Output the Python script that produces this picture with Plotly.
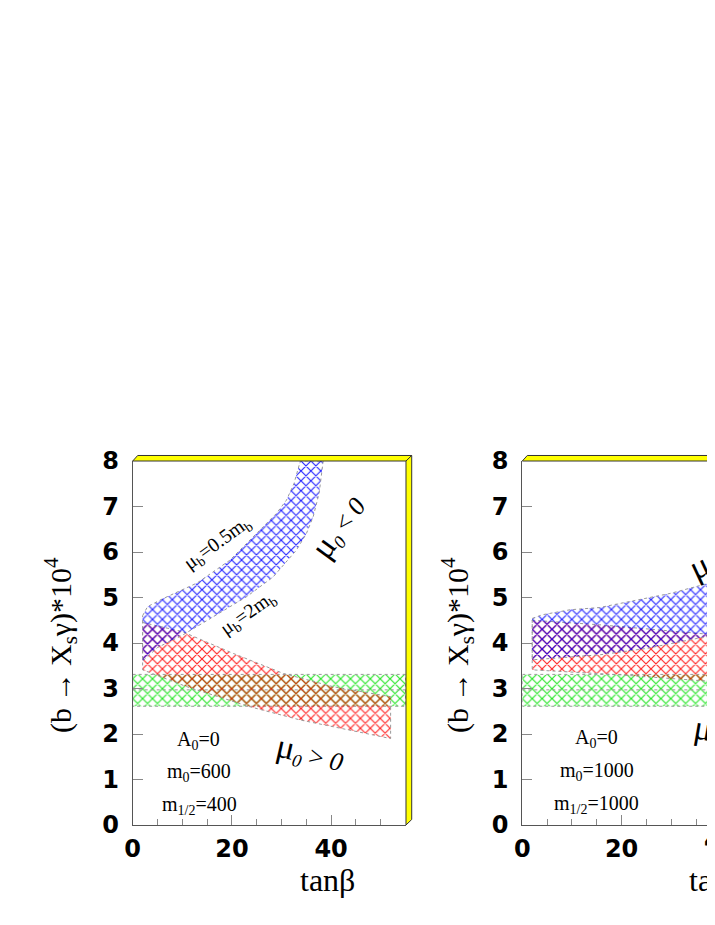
import plotly.graph_objects as go

W, H = 715, 925
OFF = 8  # the page body adds an 8 px margin; positions below are page pixels

# ---------------- data ----------------
# Panel 1 : A0=0, m0=600, m1/2=400
blue1_up_x = [2, 3, 6, 13, 19.6, 26.3, 29, 31, 32.5, 33.8]
blue1_up_y = [4.6, 4.8, 4.97, 5.32, 5.82, 6.55, 6.85, 7.14, 7.5, 8.0]
blue1_lo_x = [2, 5, 10, 16.3, 23, 28.3, 33, 35, 36.4, 37.6, 38.4]
blue1_lo_y = [3.6, 3.9, 4.17, 4.58, 5.02, 5.45, 6.04, 6.4, 6.78, 7.3, 8.0]

red1_up_x = [2, 10, 20.3, 30.4, 40.4, 52]
red1_up_y = [4.45, 4.25, 3.77, 3.33, 3.04, 2.82]
red1_lo_x = [2, 10.9, 23.6, 33.7, 43.8, 52]
red1_lo_y = [3.41, 3.04, 2.6, 2.31, 2.09, 1.9]

# experimental band (same in both panels)
green_x = [0, 55]
green_up = [3.31, 3.31]
green_mid = [2.97, 2.97]
green_lo = [2.61, 2.61]

# Panel 2 : A0=0, m0=1000, m1/2=1000
blue2_up_x = [2, 4, 9.6, 15.6, 19.7, 29.8, 38.8]
blue2_up_y = [4.54, 4.62, 4.73, 4.78, 4.87, 5.09, 5.35]
blue2_lo_x = [2, 15.6, 25, 35.2, 38.8]
blue2_lo_y = [3.63, 3.74, 3.88, 4.1, 4.17]

red2_up_x = [2, 15.6, 38.8]
red2_up_y = [4.5, 4.4, 4.18]
red2_lo_x = [2, 19.7, 29.8, 38.8]
red2_lo_y = [3.41, 3.3, 3.22, 3.15]

x_ticks = [0, 20, 40]
y_ticks = [0, 1, 2, 3, 4, 5, 6, 7, 8]

# ---------------- helpers ----------------
def px(x):
    return (x - OFF) / W

def py(y):
    return 1 - (y - OFF) / H

X1_DOM = [px(132.7), px(406)]
X2_DOM = [px(522.3), 1.0]
Y_DOM = [py(825), py(461)]
X1_RANGE = [0, 55.1]
X2_RANGE = [0, (W + OFF - 522.3) / 4.965]

fig = go.Figure()


def band(xu, yu, xl, yl, color, xa, ya):
    xs = list(xu) + list(reversed(xl)) + [xu[0]]
    ys = list(yu) + list(reversed(yl)) + [yu[0]]
    fig.add_trace(go.Scatter(
        x=xs, y=ys, mode="lines", fill="toself",
        fillcolor="rgba(0,0,0,0)",
        fillpattern=dict(shape="x", size=7, solidity=0.3,
                         fgcolor=color, fgopacity=0.85,
                         bgcolor="rgba(0,0,0,0)"),
        line=dict(color="#999999", width=1, dash="dot"),
        xaxis=xa, yaxis=ya, showlegend=False, hoverinfo="skip"))


for xa, ya in (("x", "y"), ("x2", "y2")):
    band(green_x, green_up, green_x, green_lo, "#00e000", xa, ya)
    fig.add_trace(go.Scatter(x=green_x, y=green_mid, mode="lines",
                             line=dict(color="#999999", width=1, dash="dot"),
                             xaxis=xa, yaxis=ya, showlegend=False, hoverinfo="skip"))

band(red1_up_x, red1_up_y, red1_lo_x, red1_lo_y, "#ff0000", "x", "y")
band(blue1_up_x, blue1_up_y, blue1_lo_x, blue1_lo_y, "#0000ff", "x", "y")
band(red2_up_x, red2_up_y, red2_lo_x, red2_lo_y, "#ff0000", "x2", "y2")
band(blue2_up_x, blue2_up_y, blue2_lo_x, blue2_lo_y, "#0000ff", "x2", "y2")

tickfont = dict(family="DejaVu Sans", size=24, color="black", weight="bold")
common_x = dict(showgrid=False, zeroline=False, showline=True, linecolor="#555555",
                linewidth=1, ticks="inside", ticklen=10, tickcolor="#888888",
                tickvals=x_ticks, tickfont=tickfont, ticklabelstandoff=2,
                automargin=False,
                minor=dict(dtick=5, tick0=0, ticks="inside", ticklen=6, tickcolor="#888888"))
common_y = dict(showgrid=False, zeroline=False, showline=True, linecolor="#555555",
                linewidth=1, ticks="inside", ticklen=10, tickcolor="#888888",
                tickvals=y_ticks, range=[0, 8], domain=Y_DOM, tickfont=tickfont,
                ticklabelstandoff=8, automargin=False)

fig.update_layout(
    width=W, height=H, margin=dict(l=0, r=0, t=0, b=0),
    paper_bgcolor="white", plot_bgcolor="white",
    xaxis=dict(domain=X1_DOM, range=X1_RANGE, anchor="y", **common_x),
    yaxis=dict(anchor="x", **common_y),
    xaxis2=dict(domain=X2_DOM, range=X2_RANGE, anchor="y2", **common_x),
    yaxis2=dict(anchor="x2", **common_y),
)

# 3D-looking yellow frame
def poly(pts):
    return "M " + " L ".join(f"{px(a):.5f},{py(b):.5f}" for a, b in pts) + " Z"

frames = [
    [(132.7, 461), (137.7, 455.5), (411.7, 455.5), (406, 461)],
    [(406, 461), (411.7, 455.5), (411.7, 819.5), (406, 825)],
    [(522.3, 461), (527.3, 455.5), (740, 455.5), (740, 461)],
]
for pts in frames:
    fig.add_shape(type="path", path=poly(pts), xref="paper", yref="paper",
                  fillcolor="#ffff00", line=dict(color="#333333", width=1), layer="above")

serif = "Liberation Serif"

def note(text, x, y, size, angle=0, family=serif):
    fig.add_annotation(text=text, x=px(x), y=py(y), xref="paper", yref="paper",
                       xanchor="center", yanchor="middle", showarrow=False,
                       textangle=angle, font=dict(family=family, size=size, color="black"))

ytitle = "(b\u2009→\u2009X<sub>s</sub>γ)*10<sup>4</sup>"
note(ytitle, 60, 645, 30, -90)
note(ytitle, 457, 645, 30, -90)
note("tanβ", 327, 880, 32)
note("tanβ", 716.6, 880, 32)
note("<b>40</b>", 720.9, 841, 24, family="DejaVu Sans")

MU = "<span style='font-size:34px'>μ</span>"
mu_lt = MU + "<sub><i>0</i></sub> &lt; <i>0</i>"
mu_gt = MU + "<sub><i>0</i></sub> &gt; <i>0</i>"

# panel 1 labels
note("μ<sub>b</sub>=0.5m<sub>b</sub>", 217, 543, 20, -36)
note("μ<sub>b</sub>=2m<sub>b</sub>", 248, 613, 20, -35)
note(mu_lt, 338, 527, 26, -54)
note(mu_gt, 310, 753, 26, 13)
note("A<sub>0</sub>=0", 198.5, 740, 20)
note("m<sub>0</sub>=600", 198.5, 772, 20)
note("m<sub>1/2</sub>=400", 199, 805, 20)

# panel 2 labels
note(mu_lt, 722, 556, 26, -25)
note(mu_gt, 728, 733, 26, 10)
note("A<sub>0</sub>=0", 596.7, 738, 20)
note("m<sub>0</sub>=1000", 596.7, 771, 20)
note("m<sub>1/2</sub>=1000", 596.7, 804, 20)

fig.write_html("out.html")
